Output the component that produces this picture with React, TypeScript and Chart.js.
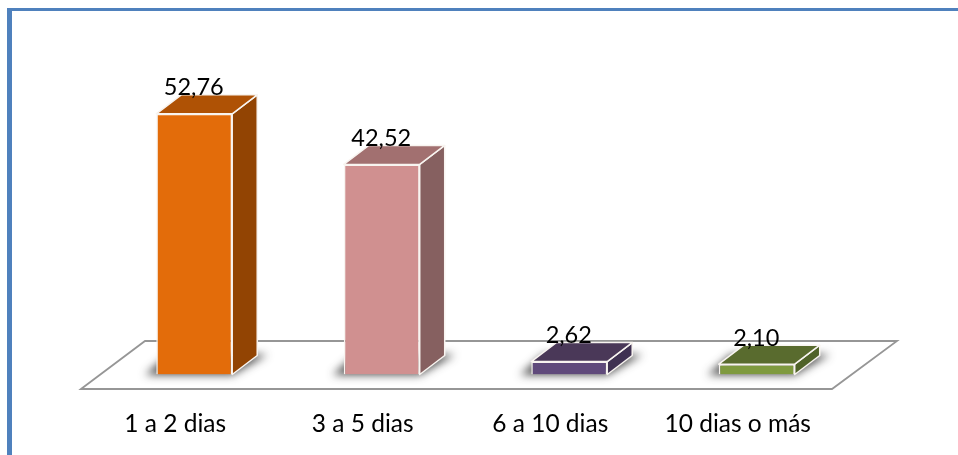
import React, { useEffect, useRef } from "react";
import { Chart, registerables } from "chart.js";

Chart.register(...registerables);

const categories = ["1 a 2 dias", "3 a 5 dias", "6 a 10 dias", "10 dias o más"];
const values = [52.76, 42.52, 2.62, 2.1];
const valueLabels = ["52,76", "42,52", "2,62", "2,10"];

const frontColors = ["#E36C0A", "#D09090", "#604A7B", "#7F9A3F"];
const topColors = ["#AF5205", "#A27070", "#4A3858", "#596B2E"];
const sideColors = ["#924403", "#866060", "#3F3151", "#4F6228"];

const FONT = "Lato";
const DX = 25;
const DY = -19;

const poly = (ctx: CanvasRenderingContext2D, pts: number[][]) => {
  ctx.beginPath();
  pts.forEach(([x, y], i) => (i ? ctx.lineTo(x, y) : ctx.moveTo(x, y)));
  ctx.closePath();
};

const depthPlugin = {
  id: "depth",
  beforeDatasetsDraw(chart: any) {
    const { ctx, chartArea } = chart;
    const base = chartArea.bottom;
    ctx.save();
    // floor
    poly(ctx, [
      [chartArea.left - 19.5, base + 14.5],
      [chartArea.left + 44.5, base - 33.5],
      [chartArea.right + 46.5, base - 33.5],
      [chartArea.right - 18.5, base + 14.5],
    ]);
    ctx.strokeStyle = "#969696";
    ctx.lineWidth = 1.8;
    ctx.stroke();

    const bars = chart.getDatasetMeta(0).data;
    bars.forEach((bar: any) => {
      const l = bar.x - bar.width / 2;
      const r = bar.x + bar.width / 2;
      ctx.save();
      // shape drawn off-canvas, so only its soft blurred shadow lands on the floor
      const off = 3000;
      ctx.shadowColor = "rgba(50,50,50,0.85)";
      ctx.shadowBlur = 8;
      ctx.shadowOffsetX = off;
      ctx.fillStyle = "#000";
      poly(ctx, [
        [l - 11 - off, base + 0.5],
        [r - off, base + 0.5],
        [r + 35 - off, base - 20],
        [l + 12 - off, base - 20],
      ]);
      ctx.fill();
      ctx.restore();
    });

    bars.forEach((bar: any, i: number) => {
      const l = bar.x - bar.width / 2;
      const r = bar.x + bar.width / 2;
      const t = bar.y;
      ctx.lineWidth = 1.5;
      ctx.strokeStyle = "#F8F4F0";
      ctx.lineJoin = "round";
      ctx.fillStyle = sideColors[i];
      poly(ctx, [
        [r, t],
        [r + DX, t + DY],
        [r + DX, base + DY],
        [r, base],
      ]);
      ctx.fill();
      ctx.stroke();
      ctx.fillStyle = topColors[i];
      poly(ctx, [
        [l, t],
        [l + DX, t + DY],
        [r + DX, t + DY],
        [r, t],
      ]);
      ctx.fill();
      ctx.stroke();
    });
    ctx.restore();
  },
  afterDatasetsDraw(chart: any) {
    const { ctx } = chart;
    ctx.save();
    ctx.font = `23.5px ${FONT}`;
    ctx.fillStyle = "#000000";
    ctx.textAlign = "center";
    ctx.textBaseline = "middle";
    chart.getDatasetMeta(0).data.forEach((bar: any, i: number) => {
      ctx.fillText(valueLabels[i], bar.x - 0.5, bar.y - 26);
    });
    ctx.restore();
  },
};

export default function App() {
  const ref = useRef<HTMLCanvasElement>(null);
  useEffect(() => {
    if (!ref.current) return;
    const chart = new Chart(ref.current, {
      type: "bar",
      data: {
        labels: categories,
        datasets: [
          {
            data: values,
            backgroundColor: frontColors,
            borderColor: "#F8F4F0",
            borderWidth: 1.5,
            barPercentage: 0.405,
            categoryPercentage: 1,
          },
        ],
      },
      options: {
        animation: false,
        responsive: false,
        layout: { padding: { left: 100.5, right: 107.5, top: 78.1, bottom: 0 } },
        plugins: { legend: { display: false }, tooltip: { enabled: false } },
        scales: {
          x: {
            grid: { display: false, drawTicks: false },
            border: { display: false },
            afterFit(scale: any) {
              scale.height = 80.5;
            },
            ticks: {
              labelOffset: -19,
              padding: 35,
              maxRotation: 0,
              color: "#000000",
              font: { family: FONT, size: 24.5 },
            },
          },
          y: { display: false, min: 0, max: 60 },
        },
      },
      plugins: [depthPlugin],
    });
    return () => chart.destroy();
  }, []);
  return (
    <div style={{ position: "fixed", left: 0, top: 0, width: 958, height: 455, background: "#FFFFFF" }}>
      <div
        style={{
          position: "absolute",
          left: 7,
          top: 8,
          right: 0,
          bottom: 0,
          borderLeft: "5px solid #4F81BD",
          borderTop: "3px solid #4F81BD",
          pointerEvents: "none",
        }}
      />
      <canvas ref={ref} width={958} height={455} style={{ position: "absolute", left: 0, top: 0, display: "block" }} />
    </div>
  );
}
